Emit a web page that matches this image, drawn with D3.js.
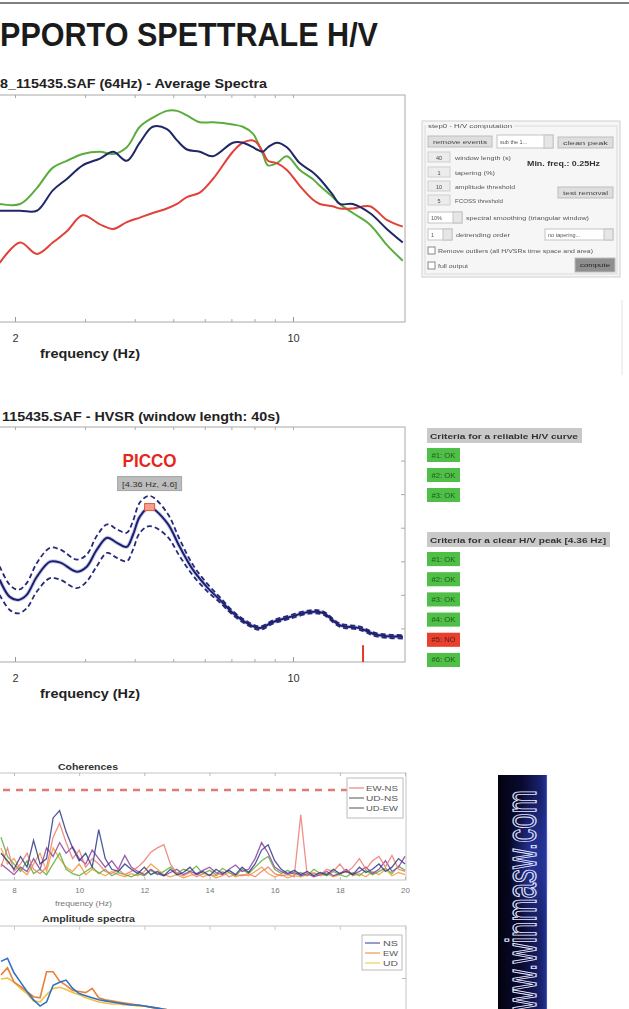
<!DOCTYPE html>
<html>
<head>
<meta charset="utf-8">
<script src="https://cdn.jsdelivr.net/npm/d3@7"></script>
<style>
  html, body { margin: 0; padding: 0; background: #fff; }
  svg { display: block; }
  text { font-family: "Liberation Sans", Arial, sans-serif; }
</style>
</head>
<body>
<svg id="canvas" width="629" height="1009"></svg>
<script>
// ---- average spectra (arbitrary amplitude units, 0-100) ----
const avgFreq = [1.83, 2.06, 2.27, 2.49, 2.70, 2.96, 3.27, 3.53, 3.82, 4.12, 4.44, 4.82, 5.11, 5.41, 5.83, 6.29,
  7.06, 7.48, 7.93, 8.11, 8.40, 8.65, 9.11, 9.65, 10.4, 11.21, 11.68, 12.59, 13.11, 14.14, 15.6, 17.21, 18.88];
const avgGreen = [52, 52, 59, 68, 71, 74, 75, 74, 77, 86, 90, 93, 93, 91, 88, 88,
  87, 86, 83, 80, 74, 69, 70, 73, 67, 63, 60, 55, 52, 48, 43, 34, 27];
const avgBlue = [49, 49, 49, 58, 63, 69, 72, 75, 71, 79, 86, 85, 80, 76, 75, 73,
  79, 79, 77, 76, 75, 77, 79, 77, 70, 66, 63, 56, 52, 52, 48, 41, 35];
const avgRed = [26, 35, 30, 35, 40, 47, 43, 41, 44, 46, 48, 50, 52, 55, 57, 63,
  75, 79, 80, 79, 75, 71, 70, 67, 60, 54, 52, 51, 50, 50, 51, 45, 42];

// ---- HVSR ----
const hvFreq = [1.83, 1.94, 2.04, 2.14, 2.27, 2.45, 2.60, 2.86, 3.03, 3.21, 3.41, 3.61, 3.82, 3.96, 4.12, 4.36,
  4.82, 5.19, 5.60, 6.07, 6.55, 7.06, 7.66, 8.26, 8.90, 9.82, 11.0, 11.9, 13.1, 14.7, 16.2, 18.9];
const hvMean = [2.45, 1.94, 1.85, 2.0, 2.54, 2.99, 2.96, 2.69, 2.84, 3.34, 3.70, 3.55, 3.43, 3.79, 4.33, 4.6,
  4.15, 3.43, 2.75, 2.24, 1.85, 1.46, 1.16, 1.01, 1.19, 1.34, 1.49, 1.46, 1.10, 1.01, 0.81, 0.75];
const hvUpper = [2.85, 2.3, 2.15, 2.35, 2.95, 3.4, 3.35, 3.05, 3.2, 3.75, 4.1, 3.95, 3.85, 4.2, 4.75, 4.95,
  4.45, 3.65, 2.9, 2.35, 1.93, 1.52, 1.21, 1.06, 1.24, 1.39, 1.54, 1.51, 1.15, 1.06, 0.86, 0.8];
const hvLower = [2.0, 1.55, 1.45, 1.6, 2.1, 2.5, 2.45, 2.2, 2.4, 2.85, 3.25, 3.1, 3.0, 3.35, 3.85, 4.05,
  3.75, 3.15, 2.58, 2.12, 1.77, 1.4, 1.11, 0.96, 1.14, 1.29, 1.44, 1.41, 1.05, 0.96, 0.76, 0.7];
const peak = { freq: 4.36, hv: 4.6 };
const limitMark = { freq: 15, from: 0, to: 0.5 };
const hvYTicks = [1, 2, 3, 4, 5, 6];

const criteriaCurve = ["#1: OK", "#2: OK", "#3: OK"];
const criteriaPeak = ["#1: OK", "#2: OK", "#3: OK", "#4: OK", "#5: NO", "#6: OK"];

// ---- coherences (0.2 Hz step from 7.6 to 20 Hz) ----
const cohFreq = d3.range(63).map(i => +(7.6 + i * 0.2).toFixed(1));
const cohUdNs = [.25,.18,.10,.22,.12,.37,.15,.20,.58,.65, .45,.30,.18,.25,.12,.47,.20,.10,.08,.15,
  .10,.06,.12,.05,.08,.04,.10,.05,.07,.12, .05,.08,.04,.10,.06,.09,.05,.12,.07,.15,
  .28,.33,.18,.10,.06,.09,.05,.08,.04,.07, .05,.10,.06,.08,.05,.12,.07,.10,.15,.08, .12,.20,.15];
const cohEwNs = [.12,.30,.08,.15,.25,.10,.06,.12,.40,.53, .35,.20,.28,.12,.20,.15,.08,.06,.10,.05,
  .08,.12,.18,.26,.30,.33,.15,.06,.04,.07, .03,.06,.05,.04,.08,.03,.05,.04,.06,.03,
  .08,.12,.06,.04,.05,.03,.61,.04,.06,.05, .10,.08,.15,.07,.12,.20,.10,.18,.22,.12, .23,.10,.08];
const cohUdEw = [.40,.22,.15,.08,.18,.06,.10,.05,.15,.25, .10,.06,.04,.08,.12,.06,.10,.04,.07,.05,
  .03,.06,.04,.09,.05,.08,.12,.06,.10,.08, .13,.06,.09,.05,.11,.07,.04,.10,.06,.12,
  .18,.22,.10,.06,.09,.05,.07,.04,.10,.06, .04,.08,.05,.03,.07,.04,.09,.05,.08,.11, .06,.13,.09];
const cohWinA = [.15,.10,.05,.12,.08,.20,.10,.30,.22,.35, .25,.31,.20,.15,.28,.20,.12,.18,.10,.23,
  .12,.08,.05,.10,.06,.04,.07,.10,.05,.08, .06,.09,.12,.07,.05,.10,.14,.08,.10,.20,
  .35,.25,.12,.08,.05,.07,.04,.06,.03,.05, .08,.04,.06,.10,.05,.08,.12,.06,.10,.18, .08,.12,.22];
const cohWinB = [.30,.15,.20,.10,.05,.15,.25,.08,.30,.20, .12,.08,.15,.05,.10,.07,.04,.08,.05,.03,
  .06,.04,.08,.15,.10,.05,.03,.05,.02,.04, .06,.03,.05,.02,.04,.07,.03,.05,.04,.08,
  .12,.06,.03,.05,.02,.04,.03,.05,.07,.04, .06,.03,.05,.09,.04,.06,.03,.08,.05,.10, .04,.07,.05];
const cohThreshold = 0.84;
const cohTicks = [8, 10, 12, 14, 16, 18, 20];

// ---- amplitude spectra (same grid) ----
const ampNS = [.66,.69,.55,.46,.37,.29,.23,.27,.43,.46, .48,.40,.35,.33,.31,.29,.28,.27,.26,.25,
  .24,.24,.23,.22,.21,.20,.19,.18,.18,.17, .16,.16,.15,.15,.14,.14,.13,.13,.13,.12,
  .12,.12,.11,.11,.11,.10,.10,.10,.10,.09, .09,.09,.09,.09,.08,.08,.08,.08,.08,.08, .07,.07,.07];
const ampEW = [.53,.60,.46,.42,.37,.32,.31,.56,.56,.47, .43,.38,.37,.36,.40,.31,.29,.28,.27,.26,
  .25,.24,.23,.22,.21,.20,.19,.18,.17,.17, .16,.15,.15,.14,.14,.13,.13,.12,.12,.12,
  .11,.11,.11,.10,.10,.10,.10,.09,.09,.09, .09,.08,.08,.08,.08,.08,.07,.07,.07,.07, .07,.07,.06];
const ampUD = [.49,.50,.46,.40,.35,.28,.27,.34,.40,.41, .39,.36,.34,.31,.29,.27,.26,.25,.25,.24,
  .24,.23,.23,.22,.21,.20,.19,.18,.17,.16, .16,.15,.15,.14,.14,.13,.13,.12,.12,.12,
  .11,.11,.11,.10,.10,.10,.09,.09,.09,.09, .08,.08,.08,.08,.08,.07,.07,.07,.07,.07, .06,.06,.06];

const svg = d3.select('#canvas');
const defs = svg.append('defs');
defs.append('filter').attr('id', 'soft')
  .append('feGaussianBlur').attr('stdDeviation', 0.45);

function txt(g, x, y, s, o = {}) {
  const t = g.append('text')
    .attr('x', x).attr('y', y)
    .attr('font-size', o.size || 10)
    .attr('font-weight', o.bold ? 'bold' : 'normal')
    .attr('fill', o.fill || '#222')
    .attr('text-anchor', o.anchor || 'start')
    .text(s);
  if (o.len) t.attr('textLength', o.len).attr('lengthAdjust', 'spacingAndGlyphs');
  if (o.family) t.attr('font-family', o.family);
  return t;
}

function clip(id, x, y, w, h) {
  defs.append('clipPath').attr('id', id)
    .append('rect').attr('x', x).attr('y', y).attr('width', w).attr('height', h);
  return `url(#${id})`;
}

svg.append('rect').attr('width', 629).attr('height', 1009).attr('fill', '#fff');

// page rule + title
svg.append('line')
  .attr('x1', 0).attr('x2', 629).attr('y1', 3).attr('y2', 3)
  .attr('stroke', '#555').attr('stroke-width', 1.5);
txt(svg, 0, 46, 'PPORTO SPETTRALE H/V', {
  size: 34, bold: true, fill: '#1b1b1b', len: 378,
  family: '"Liberation Sans Narrow","Roboto Condensed","Liberation Sans",sans-serif'
});

// shared log frequency scale of the two upper plots
const xLog = d3.scaleLog().domain([2, 10]).range([15, 293]);
const plotRight = 405;
const plotLeft = -130;

function logAxes(g, top, bottom) {
  const major = [2, 10], minor = [3, 4, 5, 6, 7, 8, 9];
  g.append('g')
    .attr('transform', `translate(0,${bottom})`)
    .call(d3.axisBottom(xLog).tickValues(major).tickFormat(d3.format('d'))
      .tickSizeInner(-5).tickSizeOuter(0).tickPadding(12))
    .call(a => a.select('.domain').remove())
    .call(a => a.selectAll('line').attr('stroke', '#999'))
    .call(a => a.selectAll('text').attr('font-size', 11).attr('fill', '#333')
      .attr('font-family', '"Liberation Sans", Arial, sans-serif'));
  g.append('g')
    .attr('transform', `translate(0,${bottom})`)
    .call(d3.axisBottom(xLog).tickValues(minor).tickFormat('').tickSizeInner(-3).tickSizeOuter(0))
    .call(a => a.select('.domain').remove())
    .call(a => a.selectAll('line').attr('stroke', '#aaa'));
  g.append('g')
    .attr('transform', `translate(0,${top})`)
    .call(d3.axisTop(xLog).tickValues(major.concat(minor)).tickFormat('').tickSizeInner(-3).tickSizeOuter(0))
    .call(a => a.select('.domain').remove())
    .call(a => a.selectAll('line').attr('stroke', '#aaa'));
  g.append('rect')
    .attr('x', plotLeft).attr('y', top)
    .attr('width', plotRight - plotLeft).attr('height', bottom - top)
    .attr('fill', 'none').attr('stroke', '#a8a8a8').attr('stroke-width', 1);
}

// ================= Average spectra =================
{
  const top = 95, bottom = 322;
  const g = svg.append('g');
  const y = d3.scaleLinear().domain([0, 100]).range([bottom, top]);
  txt(g, 0, 88, '8_115435.SAF (64Hz) - Average Spectra', { size: 12.5, bold: true, len: 267 });
  logAxes(g, top, bottom);
  txt(g, 40, 358, 'frequency (Hz)', { size: 12, bold: true, len: 100 });

  const cp = clip('clipAvg', plotLeft, top, plotRight - plotLeft, bottom - top);
  const line = d3.line().x((d, i) => xLog(avgFreq[i])).y(d => y(d)).curve(d3.curveCatmullRom);
  const series = [
    { v: avgGreen, c: '#5aad3c' },
    { v: avgRed, c: '#e2413a' },
    { v: avgBlue, c: '#1f2766' }
  ];
  g.append('g').attr('clip-path', cp)
    .selectAll('path').data(series).join('path')
    .attr('d', d => line(d.v))
    .attr('fill', 'none').attr('stroke', d => d.c).attr('stroke-width', 2);
}

// ================= control panel =================
{
  const p = svg.append('g').attr('filter', 'url(#soft)');
  p.append('rect').attr('x', 422).attr('y', 121).attr('width', 198).attr('height', 156)
    .attr('fill', '#f6f6f6').attr('stroke', '#cfcfcf');
  p.append('rect').attr('x', 425).attr('y', 126).attr('width', 192).attr('height', 148)
    .attr('fill', 'none').attr('stroke', '#dadada');
  p.append('rect').attr('x', 426).attr('y', 122).attr('width', 88).attr('height', 7).attr('fill', '#f6f6f6');
  txt(p, 428, 128, 'step0 - H/V computation', { size: 5.5, fill: '#555', len: 84 });

  const button = (x, yy, w, h, s, fill, col) => {
    p.append('rect').attr('x', x).attr('y', yy).attr('width', w).attr('height', h)
      .attr('fill', fill || '#dedede').attr('stroke', '#bdbdbd');
    txt(p, x + w / 2, yy + h / 2 + 2, s, { size: 5.5, fill: col || '#444', anchor: 'middle', len: w - 10 });
  };
  const dropdown = (x, yy, w, h, s) => {
    p.append('rect').attr('x', x).attr('y', yy).attr('width', w).attr('height', h)
      .attr('fill', '#fff').attr('stroke', '#c4c4c4');
    p.append('rect').attr('x', x + w - 9).attr('y', yy).attr('width', 9).attr('height', h)
      .attr('fill', '#e6e6e6').attr('stroke', '#c4c4c4');
    txt(p, x + 3, yy + h / 2 + 2, s, { size: 5.5, fill: '#555' });
  };
  button(428, 136, 64, 11, 'remove events');
  dropdown(497, 135, 56, 13, 'sub the 1...');
  button(558, 137, 55, 11, 'clean peak');

  const inputs = [
    { v: '40', t: 'window length (s)', y: 152, w: 56 },
    { v: '1', t: 'tapering (%)', y: 167, w: 40 },
    { v: '10', t: 'amplitude threshold', y: 181, w: 60 },
    { v: '5', t: 'FCOSS threshold', y: 195, w: 48 }
  ];
  inputs.forEach(d => {
    p.append('rect').attr('x', 428).attr('y', d.y).attr('width', 22).attr('height', 10)
      .attr('fill', '#ececec').attr('stroke', '#cfcfcf');
    txt(p, 439, d.y + 7.5, d.v, { size: 5.5, fill: '#444', anchor: 'middle' });
    txt(p, 455, d.y + 7.5, d.t, { size: 5.5, fill: '#555', len: d.w });
  });
  txt(p, 527, 166, 'Min. freq.: 0.25Hz', { size: 7, bold: true, fill: '#333', len: 73 });
  button(558, 187, 55, 11, 'test removal');
  dropdown(428, 212, 34, 11, '10%');
  txt(p, 466, 220, 'spectral smoothing (triangular window)', { size: 5.5, fill: '#555', len: 123 });
  dropdown(428, 229, 24, 11, '1');
  txt(p, 456, 237, 'detrending order', { size: 5.5, fill: '#555', len: 54 });
  dropdown(545, 229, 68, 11, 'no tapering...');
  p.append('rect').attr('x', 428).attr('y', 247).attr('width', 7).attr('height', 7)
    .attr('fill', '#fff').attr('stroke', '#888');
  txt(p, 438, 253, 'Remove outliers (all H/VSRs time space and area)', { size: 5.5, fill: '#555', len: 155 });
  p.append('rect').attr('x', 428).attr('y', 262).attr('width', 7).attr('height', 7)
    .attr('fill', '#fff').attr('stroke', '#888');
  txt(p, 438, 268, 'full output', { size: 5.5, fill: '#555', len: 30 });
  button(575, 258, 40, 14, 'compute', '#8f8f8f', '#222');

  // faint line at page edge
  svg.append('line').attr('x1', 622).attr('x2', 622).attr('y1', 300).attr('y2', 375)
    .attr('stroke', '#e2e2e2').attr('stroke-width', 1);
}

// ================= HVSR =================
{
  const top = 427, bottom = 662;
  const g = svg.append('g');
  const y = d3.scaleLinear().domain([0, 7]).range([bottom, top]);
  txt(g, 2, 421, '115435.SAF - HVSR (window length: 40s)', { size: 12.5, bold: true, len: 278 });
  logAxes(g, top, bottom);
  g.append('g')
    .attr('transform', `translate(${plotRight},0)`)
    .call(d3.axisRight(y).tickValues(hvYTicks).tickFormat('').tickSizeInner(-4).tickSizeOuter(0))
    .call(a => a.select('.domain').remove())
    .call(a => a.selectAll('line').attr('stroke', '#aaa'));
  txt(g, 40, 698, 'frequency (Hz)', { size: 12, bold: true, len: 100 });

  const cp = clip('clipHv', plotLeft, top, plotRight - plotLeft, bottom - top);
  const line = d3.line().x((d, i) => xLog(hvFreq[i])).y(d => y(d)).curve(d3.curveCatmullRom);
  const pg = g.append('g').attr('clip-path', cp);
  pg.append('path').attr('d', line(hvMean))
    .attr('fill', 'none').attr('stroke', '#6c74c8').attr('stroke-width', 4).attr('opacity', 0.35);
  pg.selectAll('path.band').data([hvUpper, hvLower]).join('path')
    .attr('class', 'band')
    .attr('d', d => line(d))
    .attr('fill', 'none').attr('stroke', '#262a78').attr('stroke-width', 1.8)
    .attr('stroke-dasharray', '5,3');
  pg.append('path').attr('d', line(hvMean))
    .attr('fill', 'none').attr('stroke', '#1c1f6e').attr('stroke-width', 2);

  // limit mark
  pg.append('line')
    .attr('x1', xLog(limitMark.freq)).attr('x2', xLog(limitMark.freq))
    .attr('y1', y(limitMark.from)).attr('y2', y(limitMark.to))
    .attr('stroke', '#e03a2a').attr('stroke-width', 2);

  // peak marker and label
  const px = xLog(peak.freq), py = y(peak.hv);
  g.append('rect').attr('x', px - 5).attr('y', py - 4).attr('width', 10).attr('height', 7)
    .attr('fill', '#f3a08c').attr('stroke', '#e0553f').attr('stroke-width', 1);
  g.append('rect').attr('x', px - 32).attr('y', py - 31).attr('width', 64).attr('height', 14)
    .attr('fill', '#bdbdbd').attr('stroke', '#a5a5a5');
  txt(g, px, py - 21, `[${peak.freq} Hz, ${peak.hv}]`, { size: 7, fill: '#333', anchor: 'middle', len: 55 });
  txt(g, px, py - 41, 'PICCO', {
    size: 18, bold: true, fill: '#e5261c', anchor: 'middle', len: 54,
    family: '"Liberation Sans Narrow","Roboto Condensed","Liberation Sans",sans-serif'
  });
}

// ================= criteria =================
{
  const g = svg.append('g').attr('filter', 'url(#soft)');
  const header = (y0, w, s, len) => {
    g.append('rect').attr('x', 427).attr('y', y0).attr('width', w).attr('height', 15).attr('fill', '#c9c9c9');
    txt(g, 430, y0 + 11, s, { size: 8, bold: true, fill: '#333', len: len });
  };
  const boxes = (list, y0, len) => {
    const yb = d3.scaleBand().domain(d3.range(list.length)).range([y0, y0 + len]).paddingInner(0.3);
    g.selectAll(null).data(list).join('rect')
      .attr('x', 427).attr('y', (d, i) => yb(i)).attr('width', 33).attr('height', yb.bandwidth())
      .attr('fill', d => d.includes('NO') ? '#e8412e' : '#4fbf46');
    g.selectAll(null).data(list).join('text')
      .attr('x', 443.5).attr('y', (d, i) => yb(i) + yb.bandwidth() / 2 + 2.5)
      .attr('text-anchor', 'middle').attr('font-size', 7)
      .attr('fill', d => d.includes('NO') ? '#5a1a10' : '#1f5a1c')
      .attr('textLength', 24).attr('lengthAdjust', 'spacingAndGlyphs')
      .text(d => d);
  };
  header(428, 155, 'Criteria for a reliable H/V curve', 148);
  boxes(criteriaCurve, 448, 54);
  header(532, 183, 'Criteria for a clear H/V peak [4.36 Hz]', 176);
  boxes(criteriaPeak, 552, 115);
}

// ================= coherences =================
const xLin = d3.scaleLinear().domain([8, 20]).range([14, 405]);
{
  const top = 773, bottom = 880, left = -10, right = 406;
  const g = svg.append('g');
  const y = d3.scaleLinear().domain([0, 1]).range([bottom, top]);
  txt(g, 58, 770, 'Coherences', { size: 8.5, bold: true, fill: '#333', len: 60 });
  g.append('rect').attr('x', left).attr('y', top).attr('width', right - left).attr('height', bottom - top)
    .attr('fill', 'none').attr('stroke', '#c4c4c4');
  g.append('g').attr('transform', `translate(0,${bottom})`)
    .call(d3.axisBottom(xLin).tickValues(cohTicks).tickSizeInner(-3).tickSizeOuter(0).tickPadding(7))
    .call(a => a.select('.domain').remove())
    .call(a => a.selectAll('line').attr('stroke', '#bbb'))
    .call(a => a.selectAll('text').attr('font-size', 8).attr('fill', '#777')
      .attr('font-family', '"Liberation Sans", Arial, sans-serif'));
  g.append('g').attr('transform', `translate(0,${top})`)
    .call(d3.axisTop(xLin).tickValues(cohTicks).tickFormat('').tickSizeInner(-3).tickSizeOuter(0))
    .call(a => a.select('.domain').remove())
    .call(a => a.selectAll('line').attr('stroke', '#bbb'));
  txt(g, 55, 906, 'frequency (Hz)', { size: 7.5, fill: '#777', len: 57 });

  const cp = clip('clipCoh', left, top, right - left, bottom - top);
  const line = d3.line().x((d, i) => xLin(cohFreq[i])).y(d => y(d));
  const series = [
    { v: cohWinB, c: '#ee9c3c' },
    { v: cohUdEw, c: '#5fae3a' },
    { v: cohWinA, c: '#8a3fa2' },
    { v: cohEwNs, c: '#ec7b70' },
    { v: cohUdNs, c: '#2f3a86' }
  ];
  const pg = g.append('g').attr('clip-path', cp);
  pg.selectAll('path').data(series).join('path')
    .attr('d', d => line(d.v))
    .attr('fill', 'none').attr('stroke', d => d.c).attr('stroke-width', 1.3).attr('opacity', 0.85);
  pg.append('line').attr('x1', left).attr('x2', right)
    .attr('y1', y(cohThreshold)).attr('y2', y(cohThreshold))
    .attr('stroke', '#e07a72').attr('stroke-width', 2.5).attr('stroke-dasharray', '7,6');

  const lg = g.append('g');
  lg.append('rect').attr('x', 347).attr('y', 778).attr('width', 56).attr('height', 40)
    .attr('fill', '#fff').attr('stroke', '#bbb');
  const legend = [{ t: 'EW-NS', c: '#e06a60' }, { t: 'UD-NS', c: '#555' }, { t: 'UD-EW', c: '#555' }];
  legend.forEach((d, i) => {
    const yy = 788 + i * 10;
    lg.append('line').attr('x1', 349).attr('x2', 364).attr('y1', yy).attr('y2', yy)
      .attr('stroke', d.c).attr('stroke-width', 1);
    txt(lg, 366, yy + 2.5, d.t, { size: 7, fill: '#555', len: 32 });
  });
}

// ================= amplitude spectra =================
{
  const top = 926, bottom = 1040, left = -10, right = 406;
  const g = svg.append('g');
  const y = d3.scaleLinear().domain([0, 1]).range([1030, top]);
  txt(g, 42, 922, 'Amplitude spectra', { size: 9, bold: true, fill: '#333', len: 93 });
  g.append('rect').attr('x', left).attr('y', top).attr('width', right - left).attr('height', bottom - top)
    .attr('fill', 'none').attr('stroke', '#c4c4c4');
  g.append('g').attr('transform', `translate(0,${top})`)
    .call(d3.axisTop(xLin).tickValues(cohTicks).tickFormat('').tickSizeInner(-4).tickSizeOuter(0))
    .call(a => a.select('.domain').remove())
    .call(a => a.selectAll('line').attr('stroke', '#ccc'));
  g.append('g').attr('transform', `translate(${right},0)`)
    .call(d3.axisRight(y).tickValues([0.5]).tickFormat('').tickSizeInner(-4).tickSizeOuter(0))
    .call(a => a.select('.domain').remove())
    .call(a => a.selectAll('line').attr('stroke', '#bbb'));

  const cp = clip('clipAmp', left, top, right - left, bottom - top);
  const line = d3.line().x((d, i) => xLin(cohFreq[i])).y(d => y(d));
  const series = [
    { v: ampUD, c: '#f0c040', t: 'UD' },
    { v: ampEW, c: '#e8823a', t: 'EW' },
    { v: ampNS, c: '#2f72c4', t: 'NS' }
  ];
  g.append('g').attr('clip-path', cp)
    .selectAll('path').data(series).join('path')
    .attr('d', d => line(d.v))
    .attr('fill', 'none').attr('stroke', d => d.c).attr('stroke-width', 1.6);

  const lg = g.append('g');
  lg.append('rect').attr('x', 362).attr('y', 935).attr('width', 40).attr('height', 35)
    .attr('fill', '#fff').attr('stroke', '#bbb');
  [{ t: 'NS', c: '#2c3a90' }, { t: 'EW', c: '#e8823a' }, { t: 'UD', c: '#f0c040' }].forEach((d, i) => {
    const yy = 943 + i * 10;
    lg.append('line').attr('x1', 365).attr('x2', 380).attr('y1', yy).attr('y2', yy)
      .attr('stroke', d.c).attr('stroke-width', 1);
    txt(lg, 383, yy + 2.5, d.t, { size: 7, fill: '#555', len: 15 });
  });
}

// ================= banner =================
{
  const grad = defs.append('linearGradient').attr('id', 'bannerGrad')
    .attr('x1', 0).attr('x2', 1).attr('y1', 0).attr('y2', 0);
  grad.append('stop').attr('offset', '0%').attr('stop-color', '#03030f');
  grad.append('stop').attr('offset', '50%').attr('stop-color', '#0a0a32');
  grad.append('stop').attr('offset', '88%').attr('stop-color', '#18236f');
  grad.append('stop').attr('offset', '100%').attr('stop-color', '#24329a');
  const glow = defs.append('radialGradient').attr('id', 'bannerGlow');
  glow.append('stop').attr('offset', '0%').attr('stop-color', '#4060ff').attr('stop-opacity', 0.45);
  glow.append('stop').attr('offset', '100%').attr('stop-color', '#4060ff').attr('stop-opacity', 0);

  const b = svg.append('g');
  b.append('rect').attr('x', 498).attr('y', 775).attr('width', 49).attr('height', 240).attr('fill', 'url(#bannerGrad)');
  b.append('ellipse').attr('cx', 530).attr('cy', 860).attr('rx', 22).attr('ry', 70).attr('fill', 'url(#bannerGlow)');
  b.append('line').attr('x1', 547).attr('x2', 547).attr('y1', 775).attr('y2', 1009)
    .attr('stroke', '#c8d0ff').attr('stroke-width', 0.8).attr('opacity', 0.6);
  b.append('text')
    .attr('transform', 'translate(536,1030) rotate(-90)')
    .attr('font-size', 42)
    .attr('font-family', '"DejaVu Sans", sans-serif')
    .attr('fill', 'none').attr('stroke', '#e6e8ff').attr('stroke-width', 1.2)
    .attr('textLength', 240).attr('lengthAdjust', 'spacingAndGlyphs')
    .text('www.winmasw.com');
}
</script>
</body>
</html>
